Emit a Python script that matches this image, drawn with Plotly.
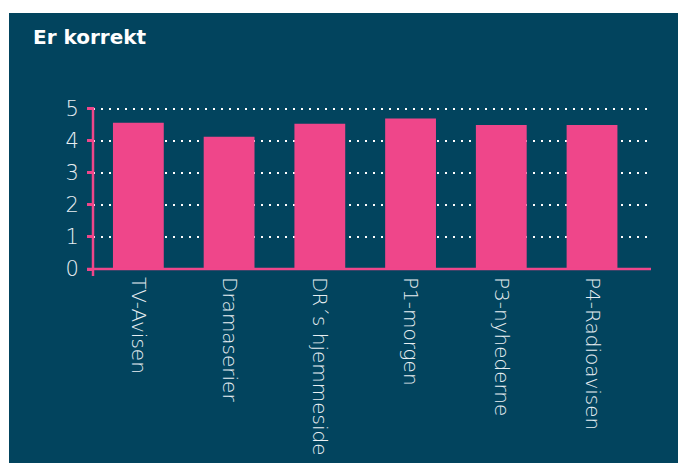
import plotly.graph_objects as go

categories = ["TV-Avisen", "Dramaserier", "DR´s hjemmeside", "P1-morgen", "P3-nyhederne", "P4-Radioavisen"]
values = [4.57, 4.13, 4.54, 4.70, 4.50, 4.50]
y_ticks = [0, 1, 2, 3, 4, 5]

BG = "#02445e"
PINK = "#ef468a"
TXT = "#e8eef2"

OFF = 8  # page body margin
W, H = 686, 463
L, T = 93 - OFF, 107 - OFF
pw, ph = 558, 162
R = W - L - pw
B = H - T - ph
BASE = T + ph  # figure y pixel of value 0

fig = go.Figure()
fig.add_trace(go.Bar(x=categories, y=values, marker=dict(color=PINK, line=dict(width=0)),
                     width=0.56, hoverinfo="skip"))

def px_x(p):
    return (p - OFF - L) / pw

def px_y(p):
    return (BASE - (p - OFF)) / ph

fig.add_shape(type="rect", xref="paper", yref="paper", layer="below",
              x0=px_x(9), x1=px_x(700), y0=px_y(480), y1=px_y(13),
              fillcolor=BG, line=dict(width=0))
# axis lines extending slightly past the crossing
fig.add_shape(type="line", xref="paper", yref="paper", layer="above",
              x0=px_x(87), x1=px_x(651), y0=0, y1=0, line=dict(color=PINK, width=2.5))
fig.add_shape(type="line", xref="paper", yref="paper", layer="above",
              x0=0, x1=0, y0=px_y(276), y1=px_y(107), line=dict(color=PINK, width=2.5))

fig.update_layout(
    width=W, height=H,
    margin=dict(l=L, r=R, t=T, b=B, pad=0, autoexpand=False),
    paper_bgcolor="white",
    plot_bgcolor="rgba(0,0,0,0)",
    showlegend=False,
    title=dict(text="<b>Er korrekt</b>", x=(33 - OFF) / W, xref="container", xanchor="left",
               y=1 - (37 - OFF) / H, yref="container", yanchor="middle",
               font=dict(family="DejaVu Sans", size=20, color="white")),
    font=dict(family="DejaVu Sans", color=TXT),
)
fig.update_xaxes(range=[-0.5, 5.65], showgrid=False, showline=False, ticks="", automargin=False,
                 tickangle=90, tickfont=dict(family="DejaVu Sans", size=20, color=TXT, weight=200),
                 ticklabelstandoff=7, fixedrange=True)
fig.update_yaxes(range=[0, 5.06], tickvals=y_ticks, showgrid=True, gridcolor="white", automargin=False,
                 gridwidth=2, griddash="2px,6px", zeroline=False, showline=False,
                 ticks="outside", ticklen=5, tickwidth=2.5, tickcolor=PINK,
                 tickfont=dict(family="DejaVu Sans", size=21, color=TXT, weight=200),
                 ticklabelstandoff=4, fixedrange=True)

fig.write_html("out.html")
